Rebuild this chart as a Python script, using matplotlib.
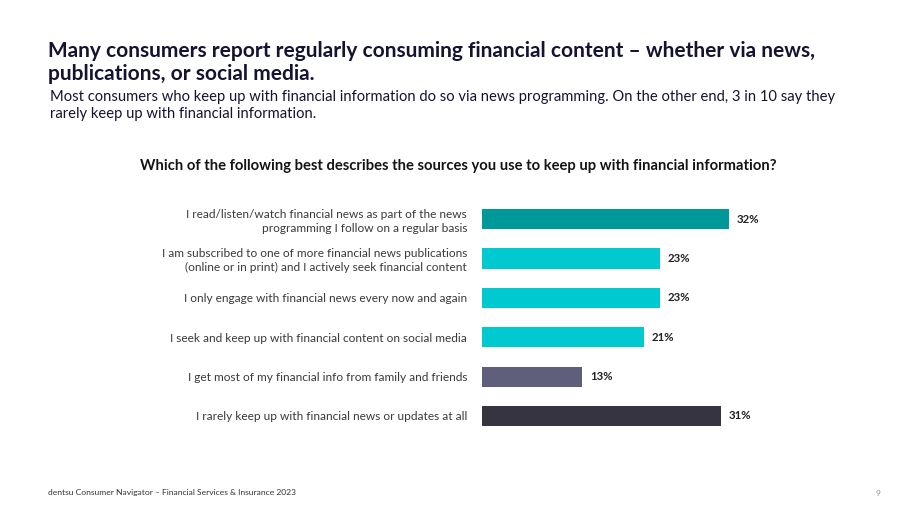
import matplotlib.pyplot as plt

plt.rcParams['font.family'] = ['Lato', 'DejaVu Sans']

labels = [
    "I read/listen/watch financial news as part of the news\nprogramming I follow on a regular basis",
    "I am subscribed to one of more financial news publications\n(online or in print) and I actively seek financial content",
    "I only engage with financial news every now and again",
    "I seek and keep up with financial content on social media",
    "I get most of my financial info from family and friends",
    "I rarely keep up with financial news or updates at all",
]
values = [32, 23, 23, 21, 13, 31]
colors = ["#00999A", "#00C9D0", "#00C9D0", "#00C9D0", "#5F5E7B", "#35343F"]

title = "Many consumers report regularly consuming financial content \u2013 whether via news,\npublications, or social media."
subtitle = ("Most consumers who keep up with financial information do so via news programming. On the other end, 3 in 10 say they\n"
            "rarely keep up with financial information.")
question = "Which of the following best describes the sources you use to keep up with financial information?"
footer = "dentsu Consumer Navigator \u2013 Financial Services & Insurance 2023"

fig = plt.figure(figsize=(9.2, 5.18), dpi=100)
ax = fig.add_axes([0.5239, 0.159, 0.3357, 0.456])

y = range(len(values))
ax.barh(y, values, height=0.51, color=colors)
ax.set_xlim(0, 40)
ax.set_ylim(len(values) - 0.5, -0.5)
for i, v in enumerate(values):
    ax.text(v + 1.0, i, f"{v}%", va="center", ha="left", fontsize=8.2,
            fontweight="bold", color="#222222")
ax.set_yticks(list(y))
ax.set_yticklabels(labels, fontsize=8.6, color="#3a3a3a", linespacing=1.3)
ax.tick_params(axis="y", length=0, pad=10.7)
ax.set_xticks([])
for s in ax.spines.values():
    s.set_visible(False)

fig.text(48 / 920, 1 - 41 / 518, title, fontsize=15, fontweight="bold",
         color="#141432", va="top", ha="left", linespacing=1.2)
fig.text(50 / 920, 1 - 90.5 / 518, subtitle, fontsize=10.6, color="#141432",
         va="top", ha="left", linespacing=1.2)
fig.text(458 / 920, 1 - 166 / 518, question, fontsize=10.6, fontweight="bold",
         color="#141414", va="center", ha="center")
fig.text(48 / 920, 1 - 492 / 518, footer, fontsize=6.1, color="#333333",
         va="center", ha="left")
fig.text(880 / 920, 1 - 493 / 518, "9", fontsize=6, color="#999999",
         va="center", ha="right")

fig.savefig("out.png", dpi=100)
